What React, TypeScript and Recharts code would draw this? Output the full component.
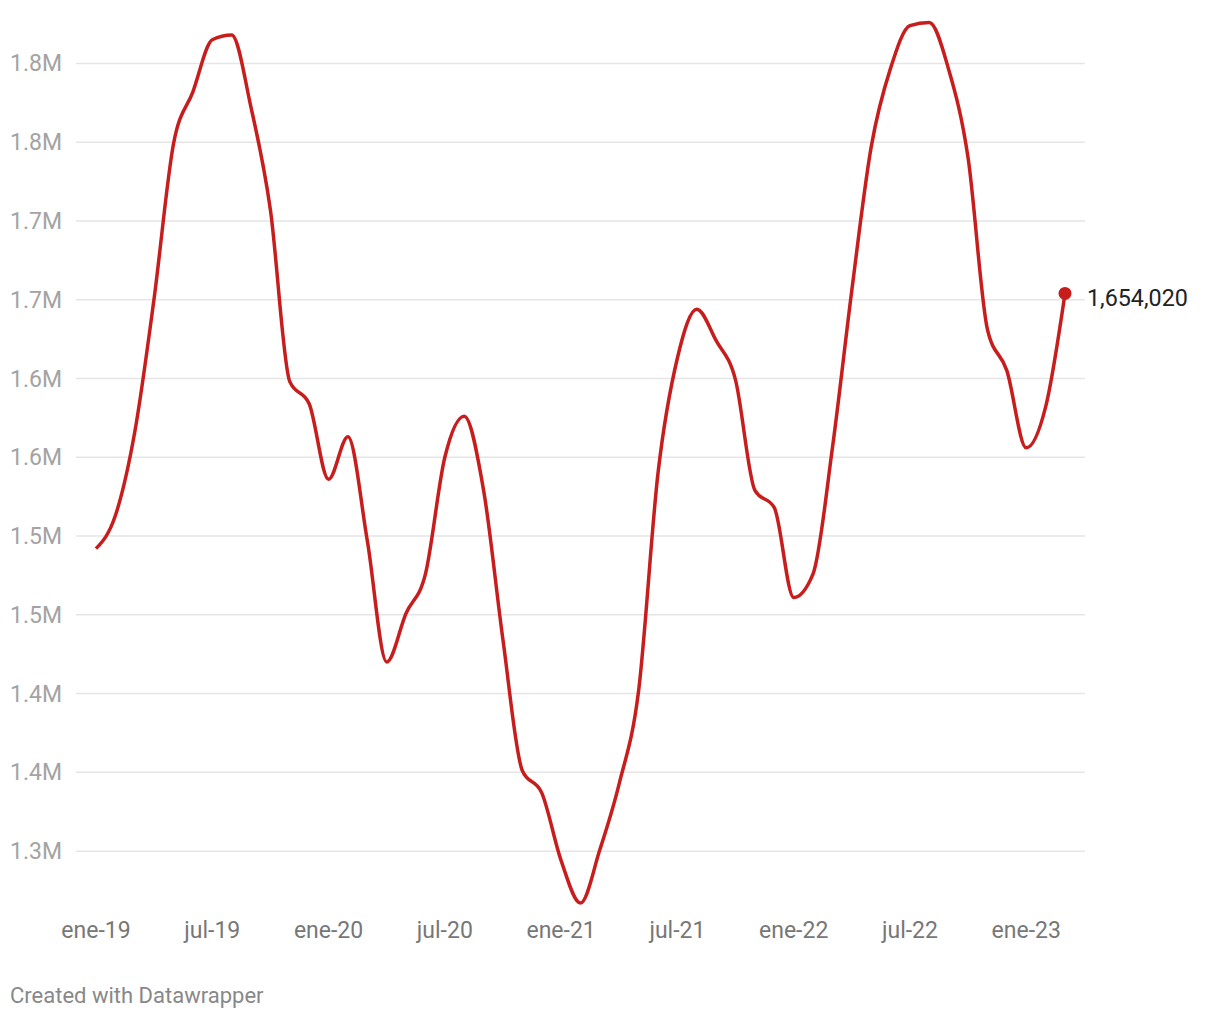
import { Line, LineChart, ReferenceLine, XAxis, YAxis } from "recharts";

const MONTHS = [
  "ene-19", "feb-19", "mar-19", "abr-19", "may-19", "jun-19", "jul-19", "ago-19", "sep-19", "oct-19", "nov-19", "dic-19",
  "ene-20", "feb-20", "mar-20", "abr-20", "may-20", "jun-20", "jul-20", "ago-20", "sep-20", "oct-20", "nov-20", "dic-20",
  "ene-21", "feb-21", "mar-21", "abr-21", "may-21", "jun-21", "jul-21", "ago-21", "sep-21", "oct-21", "nov-21", "dic-21",
  "ene-22", "feb-22", "mar-22", "abr-22", "may-22", "jun-22", "jul-22", "ago-22", "sep-22", "oct-22", "nov-22", "dic-22",
  "ene-23", "feb-23", "mar-23",
];

const VALUES = [
  1492000, 1513000, 1566000, 1651000, 1749000, 1782000, 1815000, 1818000, 1772000, 1707000, 1598000, 1584000,
  1536000, 1563000, 1497000, 1420000, 1451000, 1476000, 1550000, 1576000, 1529000, 1434000, 1351000, 1337000,
  1294000, 1267000, 1301000, 1343000, 1402000, 1540000, 1613000, 1644000, 1624000, 1599000, 1529000, 1518000,
  1461000, 1476000, 1556000, 1656000, 1747000, 1797000, 1824000, 1826000, 1796000, 1740000, 1631000, 1605000,
  1556000, 1582000, 1654020,
];

const Y_TICKS = [1300000, 1350000, 1400000, 1450000, 1500000, 1550000, 1600000, 1650000, 1700000, 1750000, 1800000];

const data = MONTHS.map((m, i) => ({ month: m, value: VALUES[i] }));

const RED = "#c71e1d";
const FONT = "Roboto, 'Noto Sans', sans-serif";
const LAST = VALUES.length - 1;

function fmtM(v: number) {
  return `${(Math.round(v / 100000) / 10).toFixed(1)}M`;
}

function YTick(props: any) {
  const { y, payload } = props;
  return (
    <text x={10} y={y} dy={8} textAnchor="start" fill="#a3a3a3" fontSize={23} fontFamily={FONT}>
      {fmtM(payload.value)}
    </text>
  );
}

function EndDot(props: any) {
  const { cx, cy, index } = props;
  if (index !== LAST) return <g key={`d${index}`} />;
  return <circle key={`d${index}`} cx={cx} cy={cy} r={6.5} fill={RED} />;
}

function EndLabel(props: any) {
  const { x, y, index, value } = props;
  if (index !== LAST) return null;
  return (
    <text x={x + 22} y={y} dy={13} textAnchor="start" fill="#222" fontSize={23.3} fontFamily={FONT}>
      {Number(value).toLocaleString("en-US")}
    </text>
  );
}

export default function App() {
  return (
    <div style={{ position: "absolute", left: 0, top: 0, width: 1220, height: 1020, background: "#fff", fontFamily: FONT }}>
      <LineChart
        width={1220}
        height={960}
        data={data}
        margin={{ top: 13, right: 135, left: 0, bottom: 19 }}
      >
        <XAxis
          dataKey="month"
          interval={5}
          axisLine={false}
          tickLine={false}
          padding={{ left: 20, right: 20 }}
          height={30}
          tick={{ fill: "#777", fontSize: 23, fontFamily: FONT }}
          tickMargin={5}
        />
        <YAxis
          domain={[1262000, 1832000]}
          ticks={Y_TICKS}
          allowDataOverflow
          axisLine={false}
          tickLine={false}
          width={76}
          tick={<YTick />}
        />
        {Y_TICKS.map((t) => (
          <ReferenceLine key={t} y={t} stroke="#e5e5e5" strokeWidth={1.5} />
        ))}
        <Line
          type="monotone"
          dataKey="value"
          stroke={RED}
          strokeWidth={3.5}
          dot={<EndDot />}
          activeDot={false}
          label={<EndLabel />}
          isAnimationActive={false}
        />
      </LineChart>
      <div style={{ position: "absolute", left: 10, top: 983, fontSize: 22, color: "#888", fontFamily: FONT }}>
        Created with Datawrapper
      </div>
    </div>
  );
}
